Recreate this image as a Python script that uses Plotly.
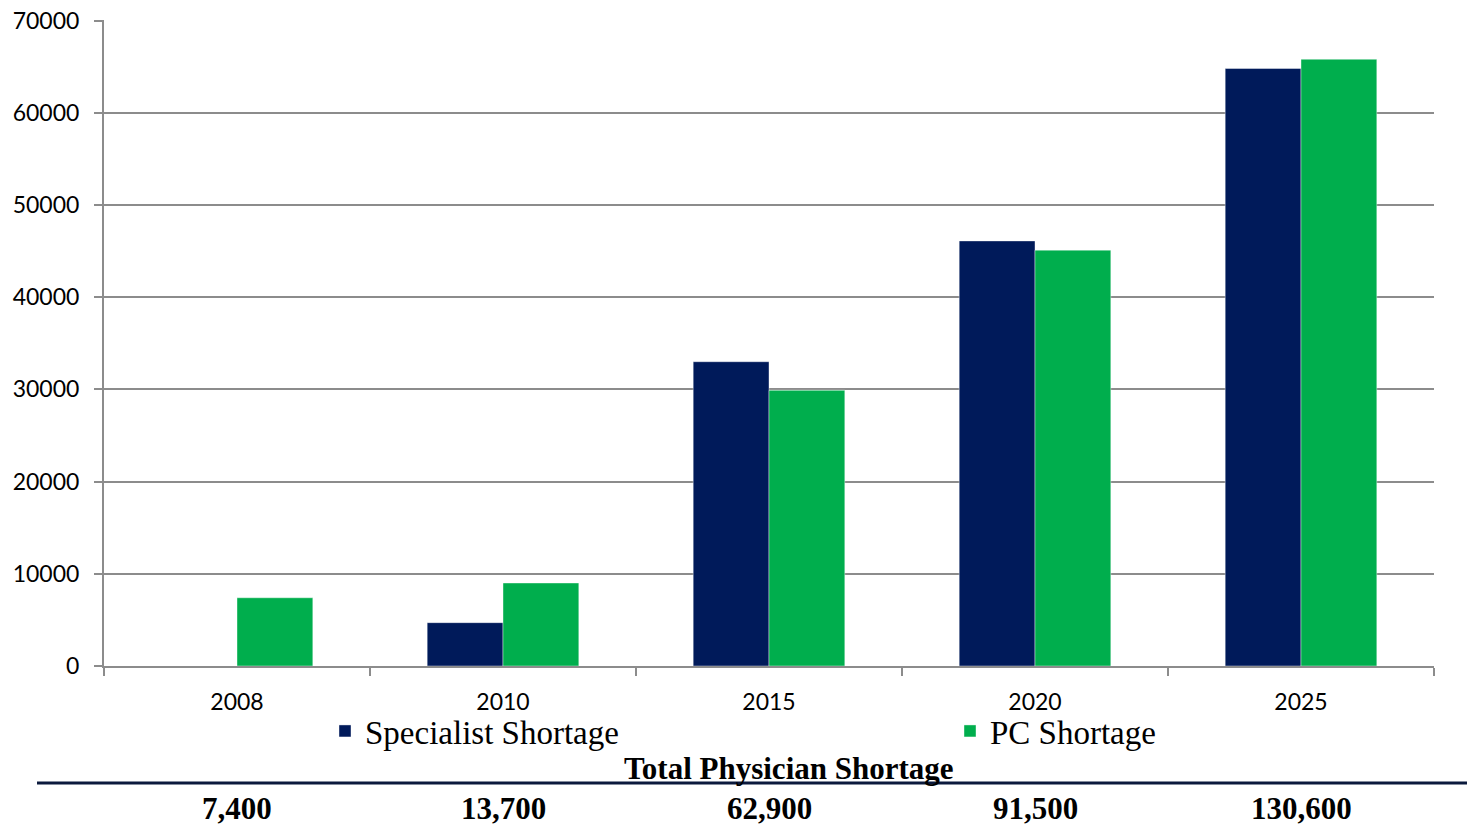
import plotly.graph_objects as go

years = ["2008", "2010", "2015", "2020", "2025"]
specialist = [0, 4700, 33000, 46100, 64800]
pc = [7400, 9000, 29900, 45100, 65800]
totals = ["7,400", "13,700", "62,900", "91,500", "130,600"]

NAVY = "#001A5A"
GREEN = "#00AE4D"
GRID = "#8C8C8C"

OFF = 8  # page body margin
W, H = 1475 - OFF, 827 - OFF
L, T = 104 - OFF, 20 - OFF
pw = 1434 - 104
ph = 666 - 20
R = W - L - pw
B = H - T - ph

def py(page_y):
    return (666 - page_y) / ph

def pxx(page_x):
    return (page_x - 104) / pw

fig = go.Figure()
fig.add_trace(go.Bar(x=years, y=specialist, name="Specialist Shortage", legend="legend",
                     marker=dict(color=NAVY, line=dict(color="rgba(255,255,255,0.4)", width=1))))
fig.add_trace(go.Bar(x=years, y=pc, name="PC Shortage", legend="legend2",
                     marker=dict(color=GREEN, line=dict(color="rgba(255,255,255,0.4)", width=1))))

for i, tv in enumerate(totals):
    fig.add_annotation(x=i, y=py(809), xref="x", yref="paper", text=f"<b>{tv}</b>",
                       showarrow=False, yanchor="middle", borderpad=0,
                       font=dict(family="Liberation Serif", size=31, color="#000000"))

fig.add_annotation(x=pxx(789), y=py(768), xref="paper", yref="paper",
                   text="<b>Total Physician Shortage</b>", showarrow=False, yanchor="middle",
                   font=dict(family="Liberation Serif", size=31, color="#000000"))

fig.add_shape(type="line", xref="paper", yref="paper",
              x0=pxx(37), x1=pxx(1480), y0=py(783), y1=py(783),
              line=dict(color="#0B1A3D", width=3))

legfont = dict(family="Liberation Serif", size=33, color="#000000")
fig.update_layout(
    width=W, height=H,
    margin=dict(l=L, r=R, t=T, b=B, autoexpand=False),
    paper_bgcolor="white", plot_bgcolor="white",
    barmode="group", bargap=0.43, bargroupgap=0,
    showlegend=True,
    legend=dict(orientation="h", x=pxx(325), xanchor="left", y=py(731), yanchor="middle",
                font=legfont, bgcolor="rgba(0,0,0,0)", borderwidth=0),
    legend2=dict(orientation="h", x=pxx(950), xanchor="left", y=py(731), yanchor="middle",
                 font=legfont, bgcolor="rgba(0,0,0,0)", borderwidth=0),
    font=dict(family="Lato", size=22, color="#000000"),
)
fig.update_yaxes(range=[0, 70060], dtick=10000, tickformat="d",
                 showgrid=True, gridcolor=GRID, gridwidth=2,
                 showline=True, linecolor=GRID, linewidth=2,
                 ticks="outside", ticklen=8, tickcolor=GRID, tickwidth=2,
                 ticklabelstandoff=10, ticklabeloverflow="allow",
                 zeroline=False, tickfont=dict(family="Lato", size=23, color="#000000"))
fig.update_xaxes(type="category", range=[-0.5, len(years) - 0.5],
                 showline=True, linecolor=GRID, linewidth=2,
                 ticks="outside", tickson="boundaries", ticklen=8, tickcolor=GRID, tickwidth=2,
                 ticklabelstandoff=14,
                 showgrid=False, tickfont=dict(family="Lato", size=23, color="#000000"))

fig.write_html("out.html")
